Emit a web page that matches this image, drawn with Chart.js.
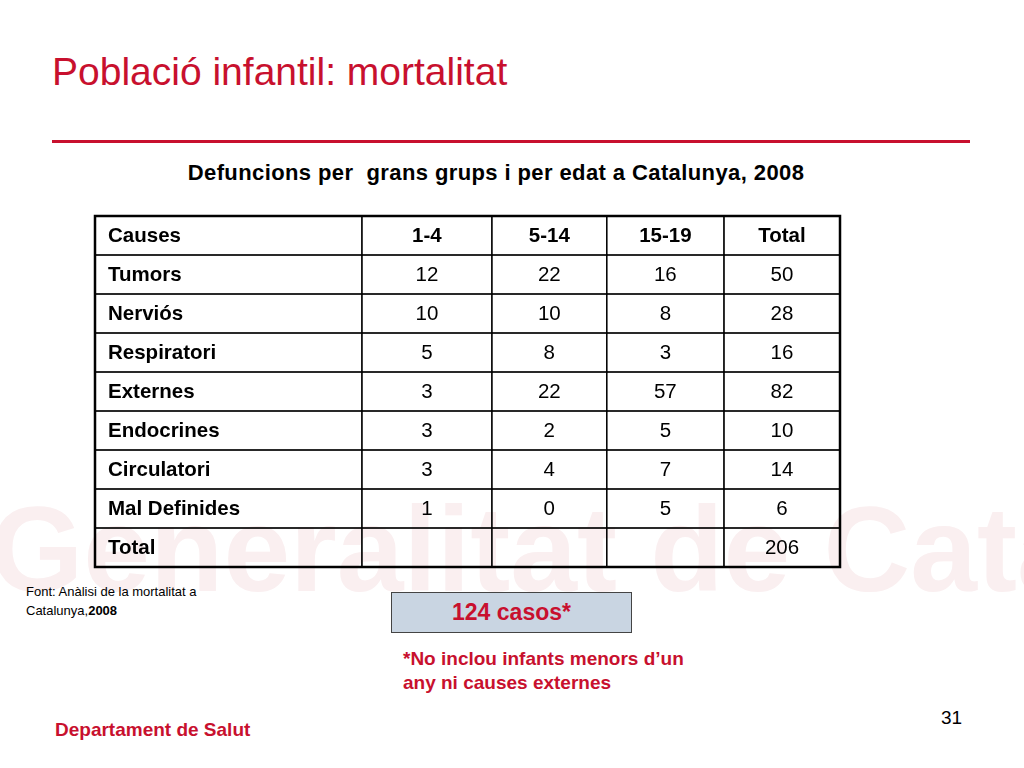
<!DOCTYPE html>
<html><head><meta charset="utf-8">
<script src="https://cdn.jsdelivr.net/npm/chart.js"></script>
<style>
body{margin:0;width:1024px;height:768px;position:relative;background:#fff;font-family:"Liberation Sans",Arial,sans-serif;overflow:hidden}
.abs{position:absolute}
#wm{left:-10px;top:480px;font-size:120px;font-weight:bold;color:#faeff0;white-space:nowrap}
#title{left:52px;top:50px;font-size:39px;color:#c8102e}
#rule{left:52px;top:140px;width:918px;height:3px;background:#c8102e}
#sub{left:0;width:992px;top:160px;text-align:center;font-size:22px;font-weight:bold;letter-spacing:0.4px}
#box{left:391px;top:592px;width:241px;height:41px;background:#c9d5e2;border:1.5px solid #444;box-sizing:border-box;text-align:center;line-height:39px;color:#c8102e;font-weight:bold;font-size:23px}
#note{left:403px;top:647px;color:#c8102e;font-weight:bold;font-size:19px;line-height:24px}
#font{left:26px;top:582px;font-size:13px;line-height:19px}
#page{left:941px;top:707px;font-size:19px}
#dep{left:55px;top:719px;color:#c8102e;font-weight:bold;font-size:19px}
#wrap{left:93px;top:214px;width:749px;height:355px}
</style></head><body>
<div class="abs" id="wm">Generalitat de Catalunya</div>
<div class="abs" id="title">Població infantil: mortalitat</div>
<div class="abs" id="rule"></div>
<div class="abs" id="sub">Defuncions per&nbsp; grans grups i per edat a Catalunya, 2008</div>
<div class="abs" id="wrap"><canvas id="tbl"></canvas></div>
<div class="abs" id="font">Font: Anàlisi de la mortalitat a<br>Catalunya,<b>2008</b></div>
<div class="abs" id="box">124 casos*</div>
<div class="abs" id="note">*No inclou infants menors d’un<br>any ni causes externes</div>
<div class="abs" id="page">31</div>
<div class="abs" id="dep">Departament de Salut</div>
<script>
const headers = ["Causes", "1-4", "5-14", "15-19", "Total"];
const causes = ["Tumors", "Nerviós", "Respiratori", "Externes", "Endocrines", "Circulatori", "Mal Definides", "Total"];
const age1_4 = [12, 10, 5, 3, 3, 3, 1, null];
const age5_14 = [22, 10, 8, 22, 2, 4, 0, null];
const age15_19 = [16, 8, 3, 57, 5, 7, 5, null];
const totals = [50, 28, 16, 82, 10, 14, 6, 206];

const colEdges = [0, 2.3, 3.42, 4.41, 5.42, 6.42];
const rows = [headers].concat(causes.map((c, i) => [c, age1_4[i], age5_14[i], age15_19[i], totals[i]]));

const tablePlugin = {
  id: 'table',
  afterDraw(chart) {
    const ctx = chart.ctx, x = chart.scales.x, y = chart.scales.y;
    ctx.save();
    ctx.textBaseline = 'middle';
    rows.forEach((row, r) => {
      const top = y.getPixelForValue(r), bot = y.getPixelForValue(r + 1);
      row.forEach((v, c) => {
        const l = x.getPixelForValue(colEdges[c]), rr = x.getPixelForValue(colEdges[c + 1]);
        ctx.strokeStyle = '#000'; ctx.lineWidth = 1.2;
        ctx.strokeRect(l, top, rr - l, bot - top);
        if (v === null) return;
        const bold = r === 0 || c === 0;
        ctx.font = (bold ? 'bold ' : '') + '20.5px "Liberation Sans", Arial';
        ctx.fillStyle = '#000';
        if (c === 0) { ctx.textAlign = 'left'; ctx.fillText(v, l + 13, (top + bot) / 2 + 1); }
        else { ctx.textAlign = 'center'; ctx.fillText(v, (l + rr) / 2, (top + bot) / 2 + 1); }
      });
    });
    ctx.lineWidth = 2.5;
    ctx.strokeRect(x.getPixelForValue(0), y.getPixelForValue(0),
      x.getPixelForValue(colEdges[5]) - x.getPixelForValue(0), y.getPixelForValue(rows.length) - y.getPixelForValue(0));
    ctx.restore();
  }
};

new Chart("tbl", {
  type: "scatter",
  data: { datasets: [{ data: [] }] },
  options: {
    responsive: true, maintainAspectRatio: false, animation: false,
    layout: { padding: 2 },
    plugins: { legend: { display: false }, tooltip: { enabled: false } },
    scales: {
      x: { type: 'linear', min: 0, max: colEdges[5], display: false },
      y: { type: 'linear', min: 0, max: rows.length, reverse: true, display: false }
    }
  },
  plugins: [tablePlugin]
});
</script>
</body></html>
